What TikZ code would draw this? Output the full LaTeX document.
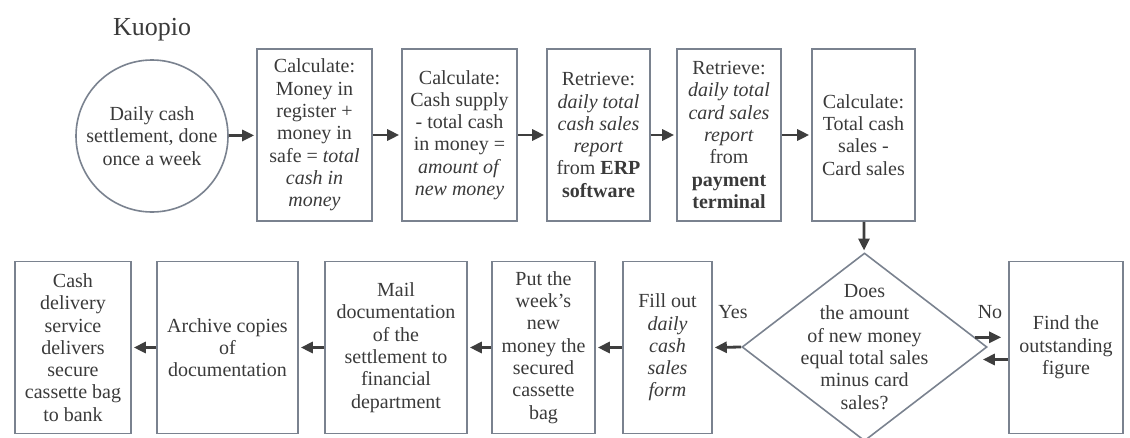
\documentclass[tikz,border=0pt]{standalone}
\usepackage{fontspec}
\setmainfont{Liberation Serif}
\usetikzlibrary{arrows.meta,shapes.geometric}
\definecolor{boxgray}{RGB}{122,130,143}
\definecolor{inkgray}{RGB}{58,58,58}
\definecolor{arrowgray}{RGB}{62,62,62}
\tikzset{
  every node/.style={text=inkgray,font=\fontsize{20}{22.3}\selectfont},
  stepbox/.style={draw=boxgray,line width=1.6pt,rectangle,align=center,inner sep=0pt,minimum height=172pt},
  startcircle/.style={draw=boxgray,line width=1.6pt,circle,align=center,inner sep=0pt,minimum size=152pt},
  decision/.style={draw=boxgray,line width=1.6pt,diamond,inner sep=0pt,minimum width=245pt,minimum height=188pt},
  arr/.style={draw=arrowgray,line width=2.8pt,-{Triangle[length=12pt,width=11pt]},shorten >=2pt},
}
\begin{document}
\begin{tikzpicture}[x=1pt,y=-1pt]
      \useasboundingbox (0,0) rectangle (1130,437);
      \node (title) [anchor=base,font=\fontsize{26}{30}\selectfont] at (152,35) {Kuopio};
      %top row
      \node (start) [startcircle] at (152,136) {Daily cash\\settlement, done\\once a week};
      \node (total) [stepbox,minimum width=115pt] at (314.5,135) {Calculate:\\Money in\\register +\\money in\\safe = \textit{total}\\\textit{cash in}\\\textit{money}};
      \node (newmoney) [stepbox,minimum width=115pt] at (459.5,135) {Calculate:\\Cash supply\\- total cash\\in money =\\\textit{amount of}\\\textit{new money}};
      \node (erp) [stepbox,minimum width=103pt] at (598.5,135) {Retrieve:\\\textit{daily total}\\\textit{cash sales}\\\textit{report}\\from \textbf{ERP}\\\textbf{software}};
      \node (card) [stepbox,minimum width=104pt] at (729,135) {Retrieve:\\\textit{daily total}\\\textit{card sales}\\\textit{report}\\from\\\textbf{payment}\\\textbf{terminal}};
      \node (diff) [stepbox,minimum width=103pt] at (863.5,135) {Calculate:\\Total cash\\sales -\\Card sales};
      %bottom row
      \node (dec) [decision] at (864.5,347) {};
      \node (dectext) [align=center,inner sep=0pt] at (dec) {Does\\the amount\\of new money\\equal total sales\\minus card\\sales?};
      \node (find) [stepbox,minimum width=114pt] at (1066,347.5) {Find the\\outstanding\\figure};
      \node (form) [stepbox,minimum width=89pt] at (667.5,347.5) {Fill out\\\textit{daily}\\\textit{cash}\\\textit{sales}\\\textit{form}};
      \node (bag) [stepbox,minimum width=103pt] at (543.5,347.5) {Put the\\week’s\\new\\money the\\secured\\cassette\\bag};
      \node (mail) [stepbox,minimum width=142pt] at (396,347.5) {Mail\\documentation\\of the\\settlement to\\financial\\department};
      \node (archive) [stepbox,minimum width=141pt] at (227.5,347.5) {Archive copies\\of\\documentation};
      \node (bank) [stepbox,minimum width=116pt] at (73,347.5) {Cash\\delivery\\service\\delivers\\secure\\cassette bag\\to bank};
      \node (lblyes) at (733,312) {Yes};
      \node (lblno) at (990,312) {No};
      %arrows
      \draw[arr] (start) -- (total);
      \draw[arr] (total) -- (newmoney);
      \draw[arr] (newmoney) -- (erp);
      \draw[arr] (erp) -- (card);
      \draw[arr] (card) -- (diff);
      \draw[arr] (diff) -- (dec);
      \draw[arr] (dec.west) -- (form.east);
      \draw[arr] (form) -- (bag);
      \draw[arr] (bag) -- (mail);
      \draw[arr] (mail) -- (archive);
      \draw[arr] (archive) -- (bank);
      \draw[arr,shorten >=7pt] (dec.5) -- (dec.5 -| find.west);
      \coordinate (back) at ([yshift=-12pt]find.west);
      \draw[arr,shorten >=-5pt] (back) -- (back -| dec.east);
\end{tikzpicture}
\end{document}
